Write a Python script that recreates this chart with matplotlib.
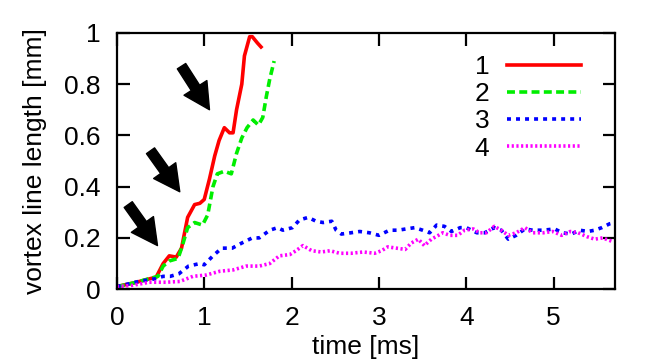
import numpy as np
import matplotlib
matplotlib.use('Agg')
import matplotlib.pyplot as plt

plt.rcParams['font.family'] = ['Liberation Sans', 'DejaVu Sans']

# curve 1 (red, solid)
t1 = [0, 0.2, 0.45, 0.53, 0.60, 0.68, 0.74, 0.81, 0.89, 0.95, 1.0, 1.06, 1.12, 1.17,
      1.23, 1.29, 1.33, 1.37, 1.43, 1.46, 1.52, 1.55, 1.61, 1.65]
l1 = [0.01, 0.025, 0.047, 0.10, 0.13, 0.125, 0.16, 0.28, 0.33, 0.335, 0.35, 0.43, 0.52, 0.58,
      0.63, 0.61, 0.61, 0.70, 0.80, 0.91, 0.985, 0.985, 0.96, 0.945]

# curve 2 (green, dashed)
t2 = [0, 0.2, 0.47, 0.53, 0.60, 0.70, 0.75, 0.81, 0.89, 0.98, 1.04, 1.10, 1.15, 1.23,
      1.31, 1.37, 1.43, 1.49, 1.56, 1.62, 1.67, 1.71, 1.75, 1.80]
l2 = [0.01, 0.025, 0.05, 0.09, 0.11, 0.12, 0.17, 0.24, 0.26, 0.25, 0.29, 0.40, 0.45, 0.46,
      0.45, 0.53, 0.59, 0.63, 0.66, 0.64, 0.67, 0.75, 0.82, 0.89]

# curve 3 (blue, dotted)
t3 = [0, 0.25, 0.43, 0.53, 0.61, 0.71, 0.82, 0.95, 1.0, 1.1, 1.2, 1.32, 1.43, 1.55, 1.63,
      1.75, 1.84, 1.90, 2.01, 2.09, 2.19, 2.28, 2.36, 2.46, 2.51, 2.57, 2.68, 2.78, 2.89,
      3.0, 3.12, 3.22, 3.31, 3.41, 3.50, 3.58, 3.66, 3.75, 3.83, 3.93, 4.0, 4.12, 4.21,
      4.32, 4.40, 4.48, 4.57, 4.67, 4.76, 4.88, 5.01, 5.10, 5.20, 5.30, 5.39, 5.47, 5.55,
      5.64, 5.70]
l3 = [0.01, 0.03, 0.04, 0.05, 0.05, 0.06, 0.09, 0.10, 0.095, 0.13, 0.16, 0.16, 0.18, 0.20, 0.20,
      0.23, 0.24, 0.23, 0.24, 0.27, 0.28, 0.265, 0.26, 0.265, 0.23, 0.215, 0.22, 0.225, 0.22,
      0.21, 0.23, 0.23, 0.235, 0.24, 0.23, 0.22, 0.25, 0.245, 0.225, 0.24, 0.24, 0.22, 0.22,
      0.24, 0.23, 0.195, 0.21, 0.235, 0.23, 0.23, 0.235, 0.22, 0.215, 0.23, 0.225, 0.23, 0.24,
      0.255, 0.26]

# curve 4 (magenta, fine dots)
t4 = [0, 0.18, 0.37, 0.56, 0.72, 0.87, 1.02, 1.18, 1.33, 1.48, 1.63, 1.75, 1.86, 1.98,
      2.05, 2.13, 2.23, 2.34, 2.44, 2.55, 2.68, 2.82, 2.95, 3.03, 3.10, 3.20, 3.30, 3.37,
      3.45, 3.52, 3.60, 3.68, 3.73, 3.81, 3.90, 3.98, 4.08, 4.15, 4.23, 4.32, 4.40, 4.48,
      4.57, 4.67, 4.76, 4.88, 4.99, 5.09, 5.19, 5.28, 5.38, 5.47, 5.56, 5.68]
l4 = [0.01, 0.015, 0.027, 0.027, 0.03, 0.05, 0.055, 0.07, 0.075, 0.09, 0.09, 0.10, 0.13, 0.135,
      0.15, 0.17, 0.15, 0.145, 0.15, 0.14, 0.14, 0.145, 0.14, 0.15, 0.165, 0.16, 0.155, 0.18,
      0.195, 0.17, 0.195, 0.21, 0.22, 0.21, 0.21, 0.23, 0.235, 0.22, 0.22, 0.245, 0.23, 0.21,
      0.22, 0.24, 0.22, 0.22, 0.225, 0.21, 0.225, 0.22, 0.205, 0.195, 0.20, 0.185]

labels = ['1', '2', '3', '4']

# arrows (tail -> tip) in data units
arrows = [((0.74, 0.87), (1.06, 0.70)),
          ((0.385, 0.54), (0.72, 0.38)),
          ((0.13, 0.33), (0.465, 0.17))]

fig = plt.figure(figsize=(6.64, 3.61), dpi=100)
ax = fig.add_axes([0.176, 0.199, 0.75, 0.71])

lw = 2.6
ax.plot(t1, l1, color='#ff0000', lw=lw, label=labels[0])
ax.plot(t2, l2, color='#00ee00', lw=lw, dashes=(2.2, 1.2), label=labels[1])
ax.plot(t3, l3, color='#0000ff', lw=lw, dashes=(1.1, 1.4), label=labels[2])
ax.plot(t4, l4, color='#ff00ff', lw=lw, dashes=(0.6, 0.7), label=labels[3])

for tail, tip in arrows:
    ax.annotate('', xy=tip, xytext=tail,
                arrowprops=dict(arrowstyle='simple,head_length=1.1,head_width=1.15,tail_width=0.42',
                                color='black', mutation_scale=17, shrinkA=0, shrinkB=0))

ax.set_xlim(0, 5.7)
ax.set_ylim(0, 1)
ax.set_xticks([0, 1, 2, 3, 4, 5])
ax.set_yticks([0, 0.2, 0.4, 0.6, 0.8, 1])
ax.set_yticklabels(['0', '0.2', '0.4', '0.6', '0.8', '1'])
ax.tick_params(direction='in', top=True, right=True, length=9, width=1.6,
               labelsize=19, pad=12)
for s in ax.spines.values():
    s.set_linewidth(1.6)

ax.set_xlabel('time [ms]', fontsize=19, labelpad=4)
ax.set_ylabel('vortex line length [mm]', fontsize=19, labelpad=12)

ax.legend(loc='upper right', bbox_to_anchor=(581 / 664, 1 - 55 / 361), bbox_transform=fig.transFigure,
          frameon=False, markerfirst=False, fontsize=19, handlelength=2.8, handletextpad=0.68,
          labelspacing=0.12, borderpad=0, borderaxespad=0)

fig.savefig('out.png', dpi=100)
